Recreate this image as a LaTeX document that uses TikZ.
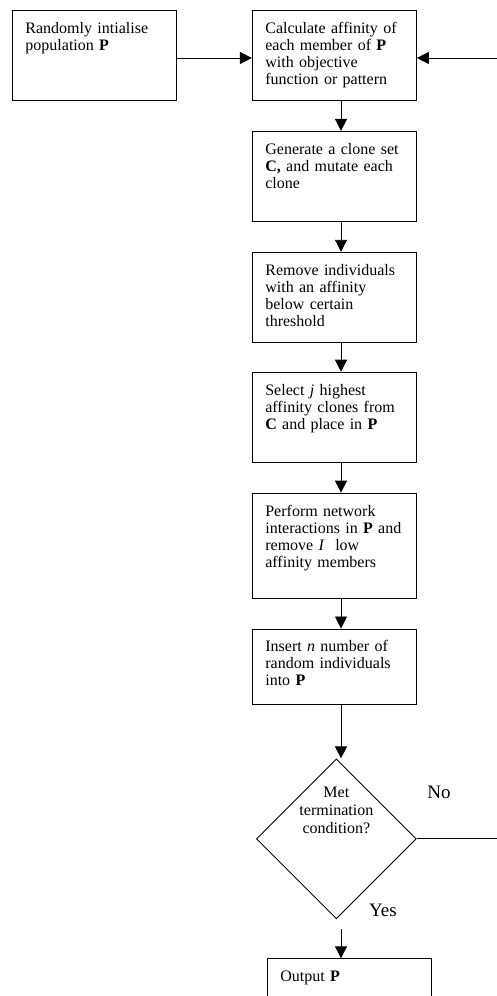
\documentclass[tikz,border=0pt]{standalone}
\usepackage{fontspec}
\setmainfont{Liberation Serif}
\usetikzlibrary {
  positioning,
  shapes.geometric,
  arrows.meta,
}
\tikzset{
  box/.style = {
    rectangle,
    draw = black,
    line width = 0.9pt,
    text width = 138pt,
    inner xsep = 13pt,
    inner ysep = 8pt,
    align = left,
    text height = 15pt,
    text depth = #1,
    font = \fontsize{16}{17}\selectfont
  },
  box/.default = 59pt,
  test/.style = {
    diamond,
    draw = black,
    line width = 0.9pt,
    minimum width = 160pt,
    minimum height = 160pt,
    inner sep = 0pt,
    font = \fontsize{16}{18}\selectfont
  },
  answer/.style = {
    font = \fontsize{19}{22}\selectfont
  },
  line/.style = {
    -{Triangle[length = 12pt, width = 12pt]},
    line width = 0.9pt
  },
}

\begin{document}
\begin{tikzpicture}[x = 1pt, y = 1pt]
  \useasboundingbox (0, 0) rectangle (496, -996);
  \node[box, anchor = north west] (init) at (12, -10) {Randomly intialise\\ population \textbf{P}};
  \node[box, right = 75pt of init] (affinity) {Calculate affinity of\\ each member of \textbf{P}\\ with objective\\ function or pattern};
  \node[box, below = 30pt of affinity] (clone) {Generate a clone set\\ \textbf{C,} and mutate each\\ clone};
  \node[box, below = 30pt of clone] (remove) {Remove individuals\\ with an affinity\\ below certain\\ threshold};
  \node[box, below = 29pt of remove] (select) {Select \textit{j} highest\\ affinity clones from\\ \textbf{C} and place in \textbf{P}};
  \node[box = 74pt, below = 30pt of select] (network) {Perform network\\ interactions in \textbf{P} and\\ remove \textit{I}~ low\\ affinity members};
  \node[box = 44pt, below = 30pt of network] (insert) {Insert \textit{n} number of\\ random individuals\\ into \textbf{P}};
  \node[test, below = 54pt of insert, xshift = 2pt] (met) {\raisebox{24pt}[0pt][0pt]{\parbox{100pt}{\centering Met\\ termination\\ condition?}}};
  \node[box = 40pt, below = 39pt of met, xshift = 13pt] (output) {Output \textbf{P}};
  \node[answer] (no) at (439, -792) {No};
  \node[answer] (yes) at (383, -910) {Yes};
  \coordinate (spine) at (341, 0);
  \coordinate (edge) at (499, 0);
  \coordinate (row) at (0, -58);

  \draw[line] (init.east |- row) -- (affinity.west |- row);
  \draw[line] (affinity.south -| spine) -- (clone.north -| spine);
  \draw[line] (clone.south -| spine) -- (remove.north -| spine);
  \draw[line] (remove.south -| spine) -- (select.north -| spine);
  \draw[line] (select.south -| spine) -- (network.north -| spine);
  \draw[line] (network.south -| spine) -- (insert.north -| spine);
  \draw[line] (insert.south -| spine) -- (met.north -| spine);
  \draw[line, shorten <= 10pt] (met.south -| spine) -- (output.north -| spine);
  \draw[line] (met.east) -- (met.east -| edge) |- (affinity.east |- row);
\end{tikzpicture}
\end{document}
